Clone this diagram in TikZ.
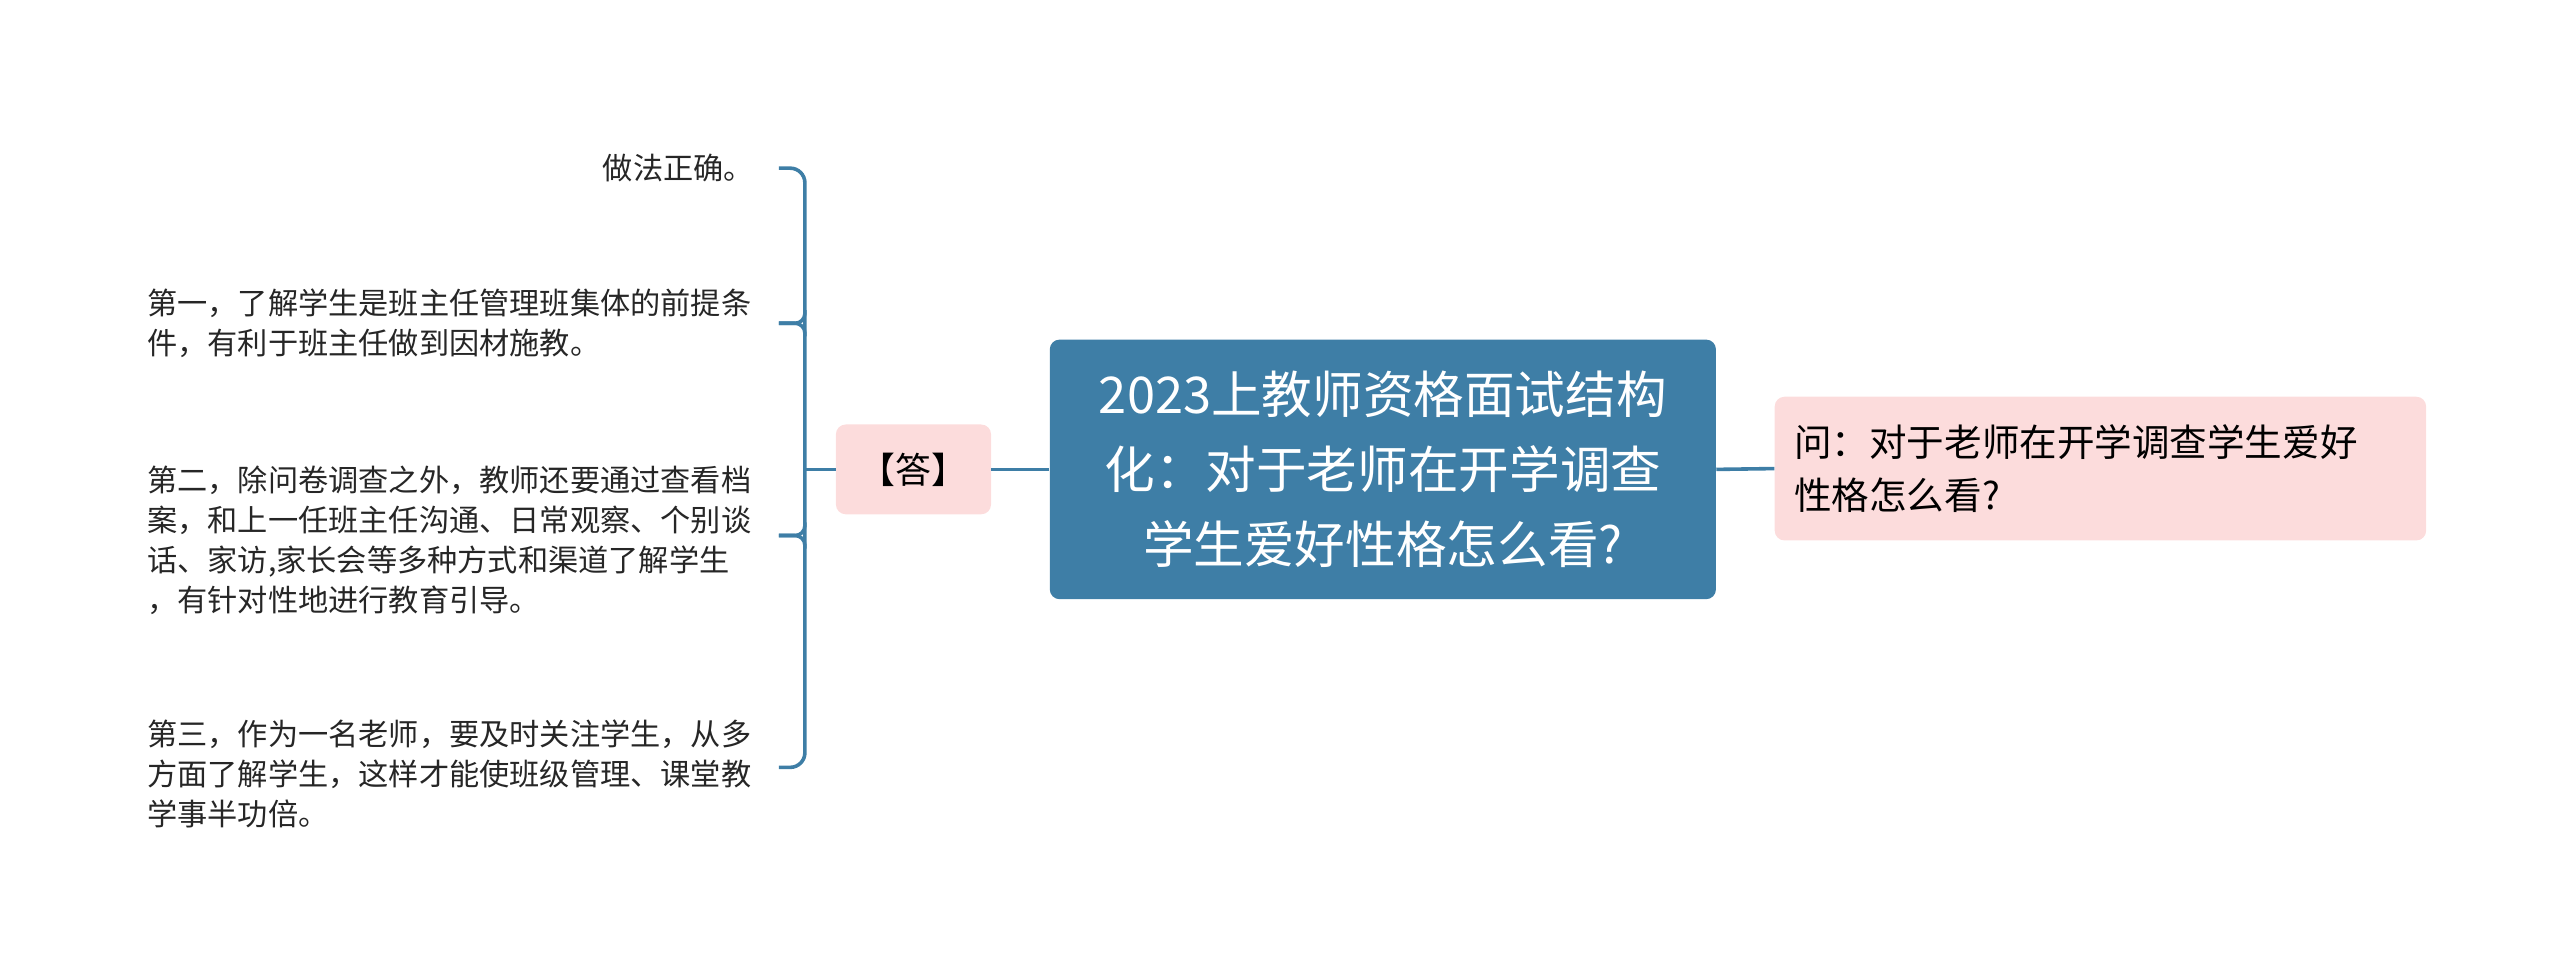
\documentclass[tikz,border=0pt]{standalone}
\usepackage{fontspec}
\setmainfont{Noto Sans CJK SC}
\definecolor{mainblue}{HTML}{3E7EA6}
\definecolor{pinkbg}{HTML}{FCDCDC}
\begin{document}
\begin{tikzpicture}[x=1pt,y=-1pt,
  conn/.style={draw=mainblue,line width=2.2pt},
  leaf/.style={inner sep=0pt,align=left,font=\fontsize{18.5}{24.5}\selectfont,text=black!85}]
\useasboundingbox (0,0) rectangle (1568,600);
\node[fill=mainblue,rounded corners=6pt,minimum width=408pt,minimum height=159pt,text=white,align=center,font=\fontsize{31}{46}\selectfont] (c) at (847,287.5) {2023上教师资格面试结构\\化：对于老师在开学调查\\学生爱好性格怎么看?};
\node[fill=pinkbg,rounded corners=6pt,minimum width=399pt,minimum height=88pt,text width=375pt,align=left,font=\fontsize{23}{33}\selectfont] (q) at (1286.5,287) {问：对于老师在开学调查学生爱好\\性格怎么看?};
\node[fill=pinkbg,rounded corners=6pt,minimum width=95pt,minimum height=55pt,font=\fontsize{22}{26}\selectfont] (a) at (559.5,287.5) {【答】};
\draw[conn] (c.west) -- (a.east);
\draw[conn] (c.east) -- (q.west);
\coordinate (b) at (493,287.5);
\draw[conn] (a.west) -- (b);
\node[leaf,anchor=east] (l1) at (462,103) {做法正确。};
\node[leaf,anchor=west] (l2) at (90,198) {第一，了解学生是班主任管理班集体的前提条\\件，有利于班主任做到因材施教。};
\node[leaf,anchor=west] (l3) at (90,331) {第二，除问卷调查之外，教师还要通过查看档\\案，和上一任班主任沟通、日常观察、个别谈\\话、家访,家长会等多种方式和渠道了解学生\\，有针对性地进行教育引导。};
\node[leaf,anchor=west] (l4) at (90,474) {第三，作为一名老师，要及时关注学生，从多\\方面了解学生，这样才能使班级管理、课堂教\\学事半功倍。};
\coordinate (t1) at (477,103);
\coordinate (t2) at (477,198);
\coordinate (t3) at (477,328);
\coordinate (t4) at (477,470);
\draw[conn,rounded corners=9pt] (t1) -- (493,103) -- (b) -- (493,470) -- (t4);
\draw[conn,rounded corners=6pt] (t2) -- (493,198) -- (493,206);
\draw[conn,rounded corners=6pt] (t2) -- (493,198) -- (493,190);
\draw[conn,rounded corners=6pt] (t3) -- (493,328) -- (493,336);
\draw[conn,rounded corners=6pt] (t3) -- (493,328) -- (493,320);
\end{tikzpicture}
\end{document}
